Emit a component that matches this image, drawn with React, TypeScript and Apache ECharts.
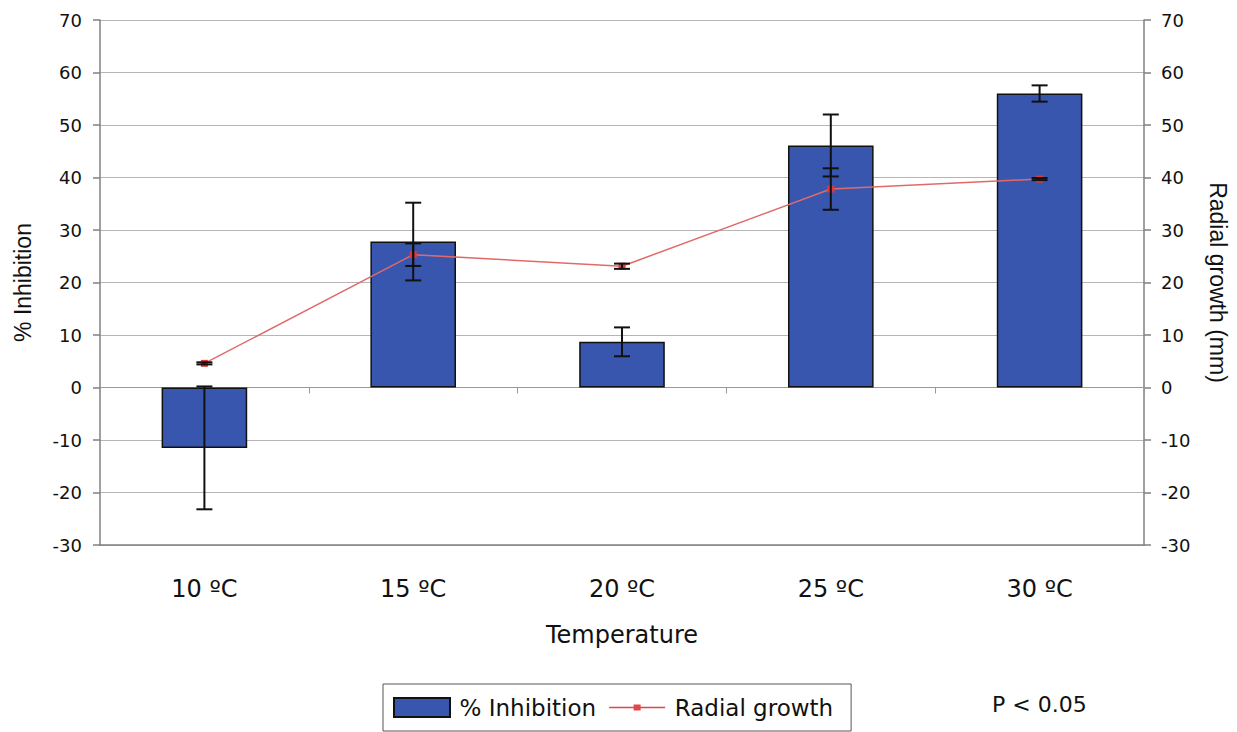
import React, { useEffect, useRef } from "react";
import * as echarts from "echarts";

const categories = ["10 ºC", "15 ºC", "20 ºC", "25 ºC", "30 ºC"];
const inhibition = [-11.5, 27.8, 8.7, 46.1, 56.0];
const inhibitionErr = [11.7, 7.4, 2.75, 5.9, 1.55];
const radialGrowth = [4.6, 25.3, 23.1, 37.8, 39.7];
const radialErr = [0.2, 2.15, 0.5, 3.95, 0.2];
const yTicks = { min: -30, max: 70, interval: 10 };

const WIDE = "'DejaVu Sans', sans-serif";
const NARROW = "'Liberation Sans', Arial, sans-serif";

function errorRender(capHalf: number) {
  return (params: any, api: any) => {
    const x = api.value(0);
    const lo = api.coord([x, api.value(1)]);
    const hi = api.coord([x, api.value(2)]);
    const st = { stroke: "#111", lineWidth: 2 };
    return {
      type: "group",
      children: [
        { type: "line", shape: { x1: hi[0], y1: hi[1], x2: lo[0], y2: lo[1] }, style: st },
        { type: "line", shape: { x1: hi[0] - capHalf, y1: hi[1], x2: hi[0] + capHalf, y2: hi[1] }, style: st },
        { type: "line", shape: { x1: lo[0] - capHalf, y1: lo[1], x2: lo[0] + capHalf, y2: lo[1] }, style: st },
      ],
    };
  };
}

const lineIcon =
  "path://M0,0 L0.05,0 L0,0.05 Z M0,8.8 L56,8.8 L56,10.2 L0,10.2 Z M24.5,6.5 L31.5,6.5 L31.5,12.5 L24.5,12.5 Z M56,19 L55.95,19 L56,18.95 Z";

export default function App() {
  const ref = useRef<HTMLDivElement>(null);
  useEffect(() => {
    const chart = echarts.init(ref.current!, null, { renderer: "svg" });
    const barErrData = inhibition.map((v, i) => [i, v - inhibitionErr[i], v + inhibitionErr[i]]);
    const lineErrData = radialGrowth.map((v, i) => [i, v - radialErr[i], v + radialErr[i]]);
    const axisLineStyle = { color: "#808080", width: 1.5 };
    chart.setOption({
      animation: false,
      textStyle: { fontFamily: WIDE },
      grid: { left: 100, right: 91, top: 20, bottom: 187 },
      legend: {
        left: 383,
        top: 684,
        itemWidth: 56,
        itemHeight: 19,
        itemGap: 13,
        padding: [12, 18, 12, 10],
        borderColor: "#555",
        borderWidth: 1,
        formatter: (name: string) => "\u2009" + name,
        textStyle: { fontSize: 23, color: "#111", fontFamily: WIDE },
        data: [
          { name: "% Inhibition", icon: "rect" },
          { name: "Radial growth", icon: lineIcon, itemStyle: { color: "#E04848" } },
        ],
      },
      graphic: [
        {
          type: "text",
          left: 992,
          top: 693,
          style: { text: "P < 0.05", fontSize: 22, fill: "#111", fontFamily: WIDE },
        },
      ],
      xAxis: [
        {
          type: "category",
          data: categories,
          position: "bottom",
          axisLine: { onZero: false, lineStyle: axisLineStyle },
          axisTick: { show: false },
          axisLabel: { margin: 32, fontSize: 24, color: "#111", fontFamily: WIDE },
          name: "Temperature",
          nameLocation: "middle",
          nameGap: 78,
          nameTextStyle: { fontSize: 24, color: "#111", fontFamily: WIDE },
        },
        {
          type: "category",
          data: categories,
          position: "bottom",
          axisLine: { onZero: true, lineStyle: { color: "#999", width: 1 } },
          axisTick: { show: true, length: 6, lineStyle: { color: "#999" } },
          axisLabel: { show: false },
        },
      ],
      yAxis: [
        {
          type: "value",
          position: "left",
          ...yTicks,
          axisLine: { show: true, lineStyle: axisLineStyle },
          axisTick: { show: true, length: 7, lineStyle: axisLineStyle },
          axisLabel: { margin: 18, fontSize: 18, color: "#111", fontFamily: WIDE },
          splitLine: { show: true, lineStyle: { color: "#b5b5b5", width: 1.2 } },
          name: "% Inhibition",
          nameLocation: "middle",
          nameRotate: 90,
          nameGap: 66,
          nameTextStyle: { fontSize: 23, color: "#111", fontFamily: NARROW },
        },
        {
          type: "value",
          position: "right",
          ...yTicks,
          axisLine: { show: true, lineStyle: axisLineStyle },
          axisTick: { show: true, length: 7, lineStyle: axisLineStyle },
          axisLabel: { margin: 17, fontSize: 18, color: "#111", fontFamily: WIDE },
          splitLine: { show: false },
          name: "Radial growth (mm)",
          nameLocation: "middle",
          nameRotate: -90,
          nameGap: 62,
          nameTextStyle: { fontSize: 23, color: "#111", fontFamily: NARROW },
        },
      ],
      series: [
        {
          name: "% Inhibition",
          type: "bar",
          data: inhibition,
          barWidth: "41%",
          itemStyle: { color: "#3856AE", borderColor: "#111", borderWidth: 1.5 },
          z: 2,
        },
        {
          name: "Radial growth",
          type: "line",
          yAxisIndex: 1,
          data: radialGrowth,
          symbol: "rect",
          symbolSize: 7,
          lineStyle: { color: "#E06A6A", width: 1.5 },
          itemStyle: { color: "#E03838" },
          z: 4,
        },
        {
          name: "barErr",
          type: "custom",
          renderItem: errorRender(8),
          data: barErrData,
          z: 5,
        },
        {
          name: "lineErr",
          type: "custom",
          yAxisIndex: 1,
          renderItem: errorRender(8),
          data: lineErrData,
          z: 5,
        },
      ],
    });
    return () => chart.dispose();
  }, []);
  return <div ref={ref} style={{ width: 1237, height: 732, position: "absolute", left: 0, top: 0 }} />;
}
